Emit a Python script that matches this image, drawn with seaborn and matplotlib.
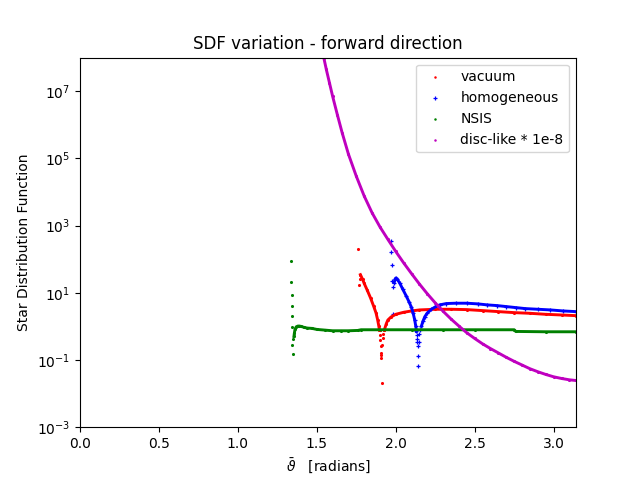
import numpy as np
import pandas as pd
import matplotlib
matplotlib.use("Agg")
import matplotlib.pyplot as plt
import seaborn as sns

# ---- data (y stored as log10 of SDF) ----
# vacuum (red)
vac_iso_x = [1.762, 1.770, 1.772]
vac_iso_log = [2.30, 1.22, 1.40]
vac_desc_x = [1.776, 1.79, 1.80, 1.82, 1.84, 1.86, 1.875, 1.885, 1.893, 1.897]
vac_desc_log = [1.54, 1.40, 1.28, 1.07, 0.85, 0.60, 0.40, 0.20, 0.00, -0.12]
vac_dip_x = [1.899, 1.902, 1.904, 1.905, 1.907, 1.906, 1.912, 1.915, 1.918, 1.922, 1.926]
vac_dip_log = [-0.25, -0.40, -0.58, -0.85, -0.80, -0.95, -1.67, -0.55, -0.35, -0.22, -0.12]
vac_asc_x = [1.928, 1.94, 1.95, 1.97, 2.00, 2.05, 2.10, 2.15, 2.25, 2.35, 2.45,
             2.55, 2.65, 2.75, 2.85, 2.95, 3.05, 3.14]
vac_asc_log = [-0.10, 0.08, 0.19, 0.28, 0.36, 0.42, 0.46, 0.49, 0.51, 0.51, 0.50,
               0.47, 0.44, 0.41, 0.39, 0.36, 0.34, 0.32]

# homogeneous (blue)
hom_iso_x = [1.972, 1.972, 1.975, 1.979, 1.981, 1.983]
hom_iso_log = [2.55, 2.21, 1.84, 1.34, 1.16, 0.36]
hom_desc_x = [1.990, 1.995, 2.000, 2.010, 2.025, 2.045, 2.068, 2.085, 2.099, 2.110, 2.120, 2.127, 2.131]
hom_desc_log = [1.30, 1.40, 1.44, 1.40, 1.29, 1.10, 0.89, 0.72, 0.57, 0.40, 0.19, 0.00, -0.15]
hom_dip_x = [2.133, 2.136, 2.135, 2.140, 2.138, 2.138, 2.146, 2.150, 2.155]
hom_dip_log = [-0.25, -0.37, -0.47, -0.58, -0.88, -1.18, -0.45, -0.23, -0.10]
hom_asc_x = [2.162, 2.172, 2.184, 2.20, 2.226, 2.25, 2.278, 2.32, 2.38, 2.45, 2.52,
             2.58, 2.64, 2.70, 2.76, 2.82, 2.90, 2.98, 3.06, 3.14]
hom_asc_log = [0.00, 0.15, 0.29, 0.40, 0.51, 0.58, 0.64, 0.68, 0.69, 0.69, 0.67,
               0.64, 0.62, 0.59, 0.56, 0.53, 0.51, 0.49, 0.46, 0.44]

# NSIS (green)
nsis_iso_x = [1.336, 1.336, 1.340, 1.340, 1.344, 1.344, 1.349, 1.344, 1.349]
nsis_iso_log = [1.96, 1.32, 0.94, 0.60, 0.30, -0.02, -0.38, -0.56, -0.83]
nsis_x = [1.355, 1.358, 1.362, 1.37, 1.38, 1.39, 1.40, 1.42, 1.44, 1.47, 1.50, 1.55,
          1.60, 1.65, 1.70, 1.76, 1.78, 1.90, 2.10, 2.30, 2.50, 2.75, 2.76, 2.95, 3.14]
nsis_log = [-0.30, -0.20, -0.08, -0.01, 0.01, 0.01, 0.00, -0.03, -0.05, -0.06, -0.09, -0.11,
            -0.13, -0.13, -0.13, -0.12, -0.10, -0.10, -0.10, -0.10, -0.10, -0.10, -0.15, -0.16, -0.16]

# disc-like * 1e-8 (magenta)
disc_x = [1.50, 1.52, 1.544, 1.56, 1.58, 1.60, 1.63, 1.66, 1.70, 1.75, 1.80, 1.85,
          1.90, 1.95, 2.00, 2.05, 2.10, 2.15, 2.20, 2.25, 2.30, 2.35, 2.40, 2.45,
          2.50, 2.55, 2.60, 2.65, 2.70, 2.75, 2.80, 2.85, 2.90, 2.95, 3.00, 3.05, 3.10, 3.14]
disc_log = [9.0, 8.5, 8.0, 7.65, 7.25, 6.85, 6.30, 5.77, 5.13, 4.47, 3.88, 3.38,
            2.96, 2.59, 2.23, 1.89, 1.57, 1.26, 0.97, 0.70, 0.45, 0.22, 0.01, -0.19,
            -0.36, -0.52, -0.66, -0.79, -0.92, -1.04, -1.15, -1.26, -1.35, -1.43, -1.50, -1.55, -1.59, -1.61]

labels = ["vacuum", "homogeneous", "NSIS", "disc-like * 1e-8"]
colors = ["r", "b", "g", "m"]

fig, ax = plt.subplots(figsize=(6.4, 4.8), dpi=100)

def seg(xs, logs):
    return pd.DataFrame({"x": xs, "y": 10.0 ** np.asarray(logs)})

series = [
    ([(vac_desc_x, vac_desc_log), (vac_asc_x, vac_asc_log)],
     [(vac_iso_x, vac_iso_log), (vac_desc_x, vac_desc_log), (vac_dip_x, vac_dip_log), (vac_asc_x, vac_asc_log)], "."),
    ([(hom_desc_x, hom_desc_log), (hom_asc_x, hom_asc_log)],
     [(hom_iso_x, hom_iso_log), (hom_desc_x, hom_desc_log), (hom_dip_x, hom_dip_log), (hom_asc_x, hom_asc_log)], "+"),
    ([(nsis_x, nsis_log)],
     [(nsis_iso_x, nsis_iso_log), (nsis_x, nsis_log)], "."),
    ([(disc_x, disc_log)],
     [(disc_x, disc_log)], "."),
]

for (lines, pts, mk), lab, col in zip(series, labels, colors):
    for xs, ls in lines:
        sns.lineplot(data=seg(xs, ls), x="x", y="y", color=col, linewidth=2.1,
                     sort=False, estimator=None, legend=False, ax=ax)
    allx = sum([list(p[0]) for p in pts], [])
    alll = sum([list(p[1]) for p in pts], [])
    df = seg(allx, alll)
    if mk == "+":
        sns.scatterplot(data=df, x="x", y="y", color=col, marker="+", s=10,
                        linewidth=0.9, label=lab, ax=ax)
    else:
        sns.scatterplot(data=df, x="x", y="y", color=col, marker="o", s=5,
                        linewidth=0, label=lab, ax=ax)

ax.set_yscale("log")
ax.set_xlim(0, np.pi)
ax.set_ylim(1e-3, 1e8)
ax.set_title("SDF variation - forward direction")
ax.set_xlabel(r"$\bar{\vartheta}$   [radians]")
ax.set_ylabel("Star Distribution Function")
ax.legend(loc="upper right", markerscale=0.8)
fig.savefig("out.png", dpi=100)
